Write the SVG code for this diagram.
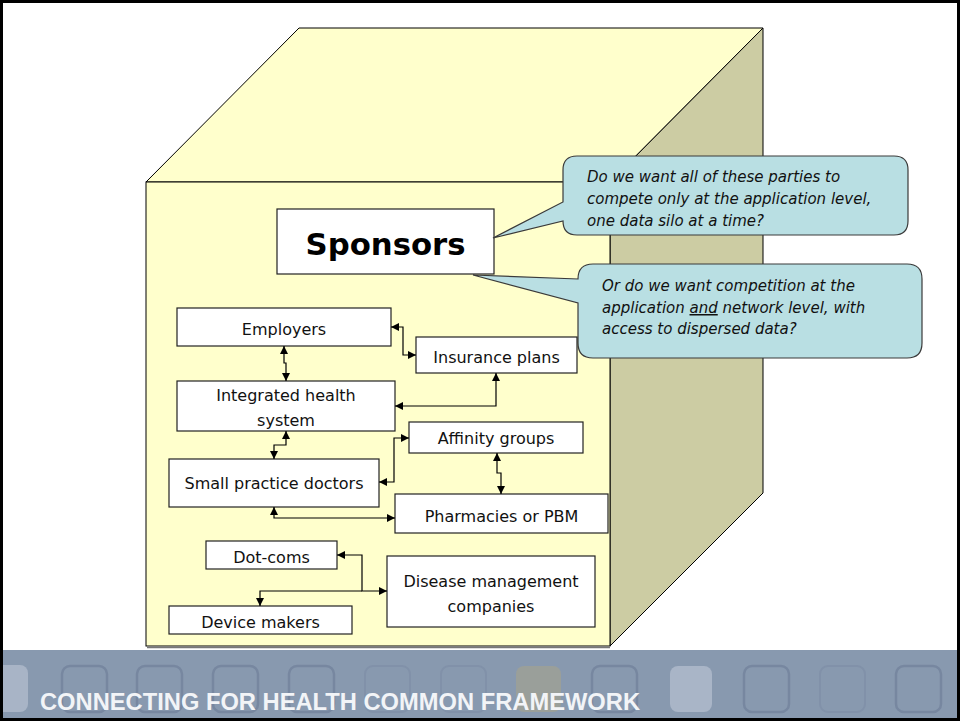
<svg xmlns="http://www.w3.org/2000/svg" width="960" height="721" viewBox="0 0 960 721">
<defs>
<style>
.face{stroke:#000;stroke-width:1}
.box{fill:#fff;stroke:#222;stroke-width:1.2}
.lbl{font-family:"DejaVu Sans",sans-serif;font-size:16px;fill:#111;text-anchor:middle}
.q{font-family:"DejaVu Sans",sans-serif;font-size:15px;font-style:italic;fill:#111}
.bub{fill:#B9DFE3;stroke:#3a3a3a;stroke-width:1.2}
.con{fill:none;stroke:#000;stroke-width:1.2}
.sq{fill:none;stroke:#7787A0;stroke-width:2.5}
.sqf{fill:none;stroke:#8191A9;stroke-width:2}
</style>
<marker id="ah" viewBox="0 0 8 8" refX="8" refY="4" markerWidth="8" markerHeight="8" markerUnits="userSpaceOnUse" orient="auto-start-reverse">
<path d="M0,0 L8,4 L0,8 z" fill="#000"/>
</marker>
</defs>
<rect x="0" y="0" width="960" height="721" fill="#fff"/>
<g id="cube">
<polygon class="face" points="146,182 299,28 763,28 610,182" fill="#FFFFCC"/>
<polygon class="face" points="610,182 763,28 763,493 610,646" fill="#CCCCA3"/>
<rect x="146" y="182" width="464" height="464" fill="#FFFFCC" stroke="#000" stroke-width="1"/>
<line x1="147" y1="647.5" x2="610" y2="647.5" stroke="#777" stroke-width="1.5"/>
</g>
<g id="footer">
<rect x="0" y="650" width="960" height="69" fill="#8899AF"/>
<rect x="-17" y="665" width="45" height="47" rx="8" fill="#A8B4C6"/>
<rect class="sq" x="62" y="666" width="45" height="46" rx="8"/>
<rect class="sq" x="137" y="666" width="45" height="46" rx="8"/>
<rect class="sq" x="213" y="666" width="45" height="46" rx="8"/>
<rect class="sq" x="289" y="666" width="45" height="46" rx="8"/>
<rect class="sqf" x="365" y="666" width="45" height="46" rx="8"/>
<rect class="sqf" x="441" y="666" width="45" height="46" rx="8"/>
<rect x="516" y="666" width="45" height="46" rx="8" fill="#9A9F9A"/>
<rect class="sq" x="592" y="666" width="45" height="46" rx="8"/>
<rect x="670" y="666" width="42" height="46" rx="8" fill="#A9B5C7"/>
<rect class="sq" x="744" y="666" width="45" height="46" rx="8"/>
<rect class="sqf" x="820" y="666" width="45" height="46" rx="8"/>
<rect class="sq" x="896" y="666" width="45" height="46" rx="8"/>
<text x="40" y="710" font-family="'Liberation Sans',Arial,sans-serif" font-size="23" font-weight="bold" fill="#F2F4F7" textLength="600" lengthAdjust="spacingAndGlyphs">CONNECTING FOR HEALTH COMMON FRAMEWORK</text>
</g>
<rect x="1.5" y="1.5" width="957" height="718" fill="none" stroke="#000" stroke-width="3"/>
<g id="sponsors">
<rect class="box" x="277" y="209" width="217" height="65"/>
<text x="385.5" y="255" font-family="'DejaVu Sans',sans-serif" font-size="30" font-weight="bold" text-anchor="middle" fill="#000" textLength="160" lengthAdjust="spacingAndGlyphs">Sponsors</text>
</g>
<g id="callout1">
<path class="bub" d="M577,156 H894 Q908,156 908,170 V221 Q908,235 894,235 H577 Q563,235 563,221 L493,238 L563,202 V170 Q563,156 577,156 Z"/>
<text class="q" x="587" y="182">Do we want all of these parties to</text>
<text class="q" x="587" y="204">compete only at the application level,</text>
<text class="q" x="587" y="226">one data silo at a time?</text>
</g>
<g id="callout2">
<path class="bub" d="M593,264 H907 Q922,264 922,279 V343 Q922,358 907,358 H593 Q578,358 578,343 V303 L473,275 L578,279 Q578,264 593,264 Z"/>
<text class="q" x="602" y="291">Or do we want competition at the</text>
<text class="q" x="602" y="313">application <tspan text-decoration="underline">and</tspan> network level, with</text>
<text class="q" x="602" y="334">access to dispersed data?</text>
</g>
<g id="employers"><rect class="box" x="177" y="308" width="214" height="38"/><text class="lbl" x="284" y="335">Employers</text></g>
<g id="insurance"><rect class="box" x="416" y="337" width="161" height="36"/><text class="lbl" x="496.5" y="363">Insurance plans</text></g>
<g id="integrated"><rect class="box" x="177" y="381" width="218" height="50"/><text class="lbl" x="286" y="401">Integrated health</text><text class="lbl" x="286" y="426">system</text></g>
<g id="affinity"><rect class="box" x="409" y="422" width="174" height="31"/><text class="lbl" x="496" y="444">Affinity groups</text></g>
<g id="small"><rect class="box" x="169" y="459" width="210" height="48"/><text class="lbl" x="274" y="489">Small practice doctors</text></g>
<g id="pharmacies"><rect class="box" x="395" y="494" width="213" height="39"/><text class="lbl" x="501.5" y="522">Pharmacies or PBM</text></g>
<g id="dotcoms"><rect class="box" x="206" y="541" width="131" height="28"/><text class="lbl" x="271.5" y="563">Dot-coms</text></g>
<g id="disease"><rect class="box" x="387" y="556" width="208" height="71"/><text class="lbl" x="491" y="587">Disease management</text><text class="lbl" x="491" y="612">companies</text></g>
<g id="device"><rect class="box" x="169" y="606" width="183" height="28"/><text class="lbl" x="260.5" y="628">Device makers</text></g>
<g id="connectors">
<path class="con" d="M391,327 H403 V355 H416" marker-start="url(#ah)" marker-end="url(#ah)"/>
<path class="con" d="M496,373 V406 H395" marker-start="url(#ah)" marker-end="url(#ah)"/>
<path class="con" d="M284,346 V363 H286 V381" marker-start="url(#ah)" marker-end="url(#ah)"/>
<path class="con" d="M286,431 V445 H274 V459" marker-start="url(#ah)" marker-end="url(#ah)"/>
<path class="con" d="M379,482 H394 V438 H409" marker-start="url(#ah)" marker-end="url(#ah)"/>
<path class="con" d="M497,453 V473 H501 V494" marker-start="url(#ah)" marker-end="url(#ah)"/>
<path class="con" d="M274,507 V518 H395" marker-start="url(#ah)" marker-end="url(#ah)"/>
<path class="con" d="M337,555 H362 V591 H387" marker-start="url(#ah)" marker-end="url(#ah)"/>
<path class="con" d="M362,591 H260 V606" marker-end="url(#ah)"/>
</g>
</svg>
